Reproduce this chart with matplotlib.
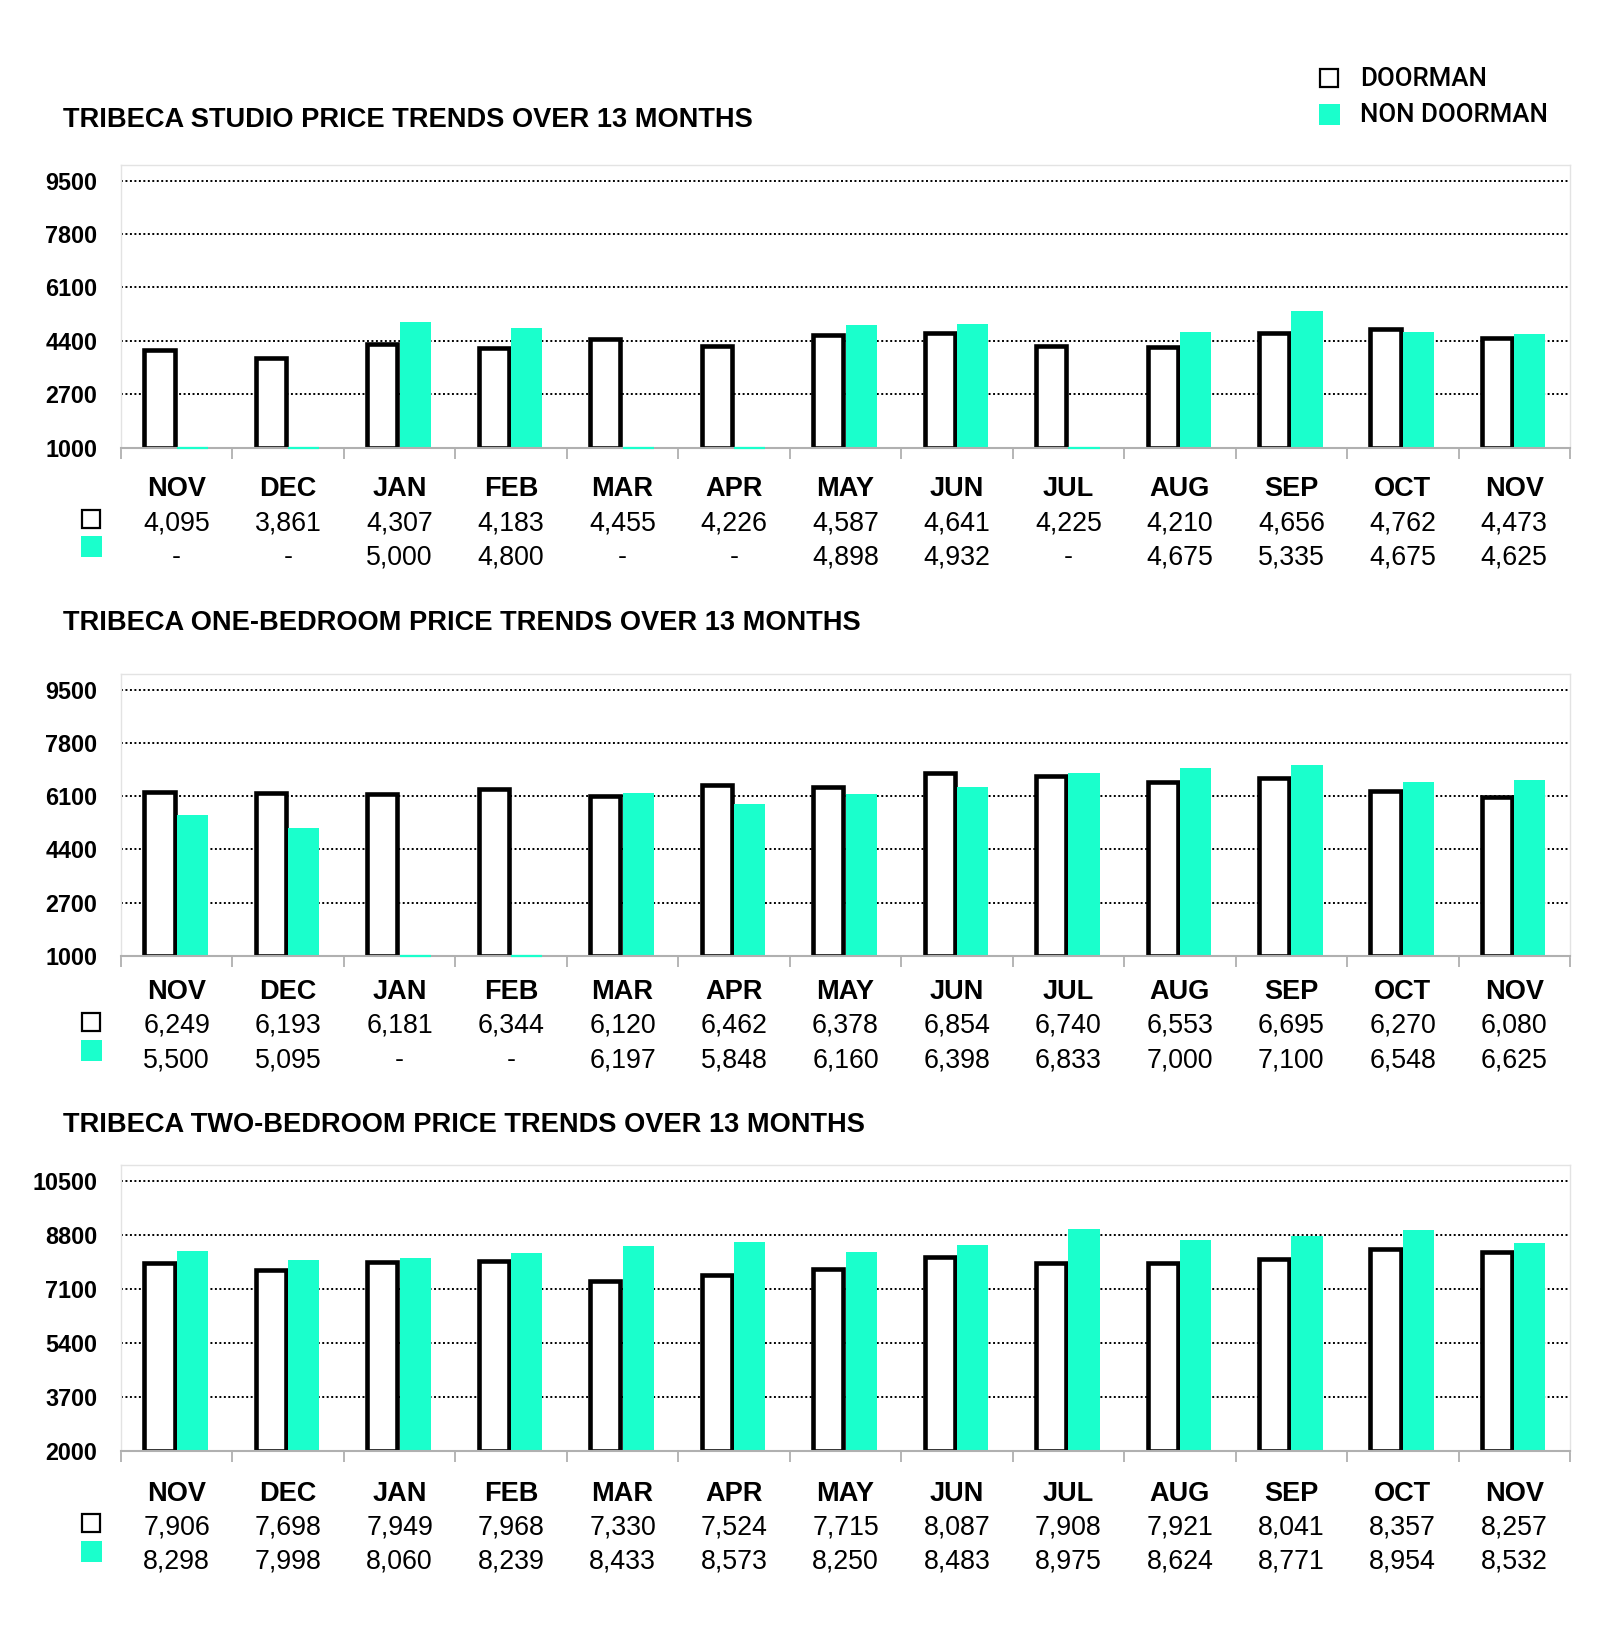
import numpy as np
import matplotlib
matplotlib.use("Agg")
import matplotlib.pyplot as plt
from matplotlib.transforms import blended_transform_factory
from matplotlib.patches import Rectangle

months = ["NOV", "DEC", "JAN", "FEB", "MAR", "APR", "MAY", "JUN", "JUL", "AUG", "SEP", "OCT", "NOV"]

studio_title = "TRIBECA STUDIO PRICE TRENDS OVER 13 MONTHS"
studio_doorman = [4095, 3861, 4307, 4183, 4455, 4226, 4587, 4641, 4225, 4210, 4656, 4762, 4473]
studio_non = [None, None, 5000, 4800, None, None, 4898, 4932, None, 4675, 5335, 4675, 4625]
studio_ticks = [1000, 2700, 4400, 6100, 7800, 9500]

one_title = "TRIBECA ONE-BEDROOM PRICE TRENDS OVER 13 MONTHS"
one_doorman = [6249, 6193, 6181, 6344, 6120, 6462, 6378, 6854, 6740, 6553, 6695, 6270, 6080]
one_non = [5500, 5095, None, None, 6197, 5848, 6160, 6398, 6833, 7000, 7100, 6548, 6625]
one_ticks = [1000, 2700, 4400, 6100, 7800, 9500]

two_title = "TRIBECA TWO-BEDROOM PRICE TRENDS OVER 13 MONTHS"
two_doorman = [7906, 7698, 7949, 7968, 7330, 7524, 7715, 8087, 7908, 7921, 8041, 8357, 8257]
two_non = [8298, 7998, 8060, 8239, 8433, 8573, 8250, 8483, 8975, 8624, 8771, 8954, 8532]
two_ticks = [2000, 3700, 5400, 7100, 8800, 10500]

legend_labels = ["DOORMAN", "NON DOORMAN"]

TEAL = "#1affcc"
W, H = 1600, 1651
fig = plt.figure(figsize=(W / 100, H / 100), dpi=100)

def fy(px):
    return 1 - px / H

def fx(px):
    return px / W

REG = "Liberation Sans"

panels = [
    dict(title=studio_title, door=studio_doorman, non=studio_non, ticks=studio_ticks,
         ylim=(1000, 10000), top=165, bottom=447.5, title_y=120, rows=(489, 523, 557), marks=(519, 547)),
    dict(title=one_title, door=one_doorman, non=one_non, ticks=one_ticks,
         ylim=(1000, 10000), top=674, bottom=956, title_y=623, rows=(992, 1026, 1060), marks=(1022, 1050)),
    dict(title=two_title, door=two_doorman, non=two_non, ticks=two_ticks,
         ylim=(2000, 11000), top=1165, bottom=1450.5, title_y=1125, rows=(1494, 1527, 1561), marks=(1523, 1551)),
]

left_px, right_px = 121, 1570
x = np.arange(len(months))

def fmt(v):
    return "-" if v is None else f"{v:,}"

for p in panels:
    ax = fig.add_axes([fx(left_px), fy(p["bottom"]), fx(right_px - left_px),
                       (p["bottom"] - p["top"]) / H])
    lo, hi = p["ylim"]
    ax.set_xlim(-0.5, len(months) - 0.5)
    ax.set_ylim(lo, hi)
    ax.set_yticks(p["ticks"])
    ax.set_yticklabels([str(t) for t in p["ticks"]], fontfamily=REG, fontweight="bold", fontsize=16.8)
    ax.tick_params(axis="y", length=0, pad=17)
    ax.set_xticks(np.arange(-0.5, len(months), 1.0))
    ax.set_xticklabels([])
    ax.tick_params(axis="x", length=8, width=1.3, color="#b0b0b0", direction="out")
    for t in p["ticks"][1:]:
        ax.axhline(t, color="black", lw=1.4, ls=(0, (1, 1.3)), zorder=1)
    for s in ["top", "left", "right"]:
        ax.spines[s].set_color("#e3e3e3")
        ax.spines[s].set_linewidth(1.0)
    ax.spines["bottom"].set_color("#b0b0b0")
    ax.spines["bottom"].set_linewidth(1.5)
    ax.spines["bottom"].set_zorder(5)

    dvals = np.array(p["door"], dtype=float)
    ax.bar(x - 0.155, dvals - lo, bottom=lo, width=0.27, facecolor="white",
           edgecolor="black", linewidth=3.3, zorder=3)
    nvals = np.array([np.nan if v is None else v for v in p["non"]], dtype=float)
    present = ~np.isnan(nvals)
    ax.bar(x[present] + 0.14, nvals[present] - lo, bottom=lo, width=0.28,
           color=TEAL, linewidth=0, zorder=3)
    for xi in x[~present]:
        ax.plot([xi, xi + 0.28], [lo, lo], color=TEAL, lw=1.6, zorder=6,
                solid_capstyle="butt", clip_on=False)

    fig.text(fx(63), fy(p["title_y"]), p["title"], fontfamily=REG, fontweight="bold",
             fontsize=19.6, va="center", ha="left")

    tr = blended_transform_factory(ax.transData, fig.transFigure)
    ym, yd, yn = p["rows"]
    for i, m in enumerate(months):
        ax.text(i, fy(ym), m, transform=tr, ha="center", va="center",
                fontfamily=REG, fontweight="bold", fontsize=19.5, clip_on=False)
        ax.text(i, fy(yd), fmt(p["door"][i]), transform=tr, ha="center", va="center",
                fontfamily=REG, fontsize=19.3, clip_on=False)
        ax.text(i, fy(yn), fmt(p["non"][i]), transform=tr, ha="center", va="center",
                fontfamily=REG, fontsize=19.3, clip_on=False)
    md, mn = p["marks"]
    fig.patches.append(Rectangle((fx(82), fy(md + 9)), fx(18), 18 / H, transform=fig.transFigure,
                                 facecolor="white", edgecolor="black", linewidth=1.6))
    fig.patches.append(Rectangle((fx(81), fy(mn + 10.5)), fx(21), 21 / H, transform=fig.transFigure,
                                 facecolor=TEAL, edgecolor="none"))

# top legend
fig.patches.append(Rectangle((fx(1320), fy(87)), fx(18), 18 / H, transform=fig.transFigure,
                             facecolor="white", edgecolor="black", linewidth=1.6))
fig.patches.append(Rectangle((fx(1319), fy(125)), fx(21), 21 / H, transform=fig.transFigure,
                             facecolor=TEAL, edgecolor="none"))
fig.text(fx(1360), fy(79), legend_labels[0], fontfamily="Roboto", fontweight="medium",
         fontsize=18.6, va="center", ha="left")
fig.text(fx(1360), fy(115), legend_labels[1], fontfamily="Roboto", fontweight="medium",
         fontsize=18.6, va="center", ha="left")

fig.savefig("out.png", dpi=100, facecolor="white")
